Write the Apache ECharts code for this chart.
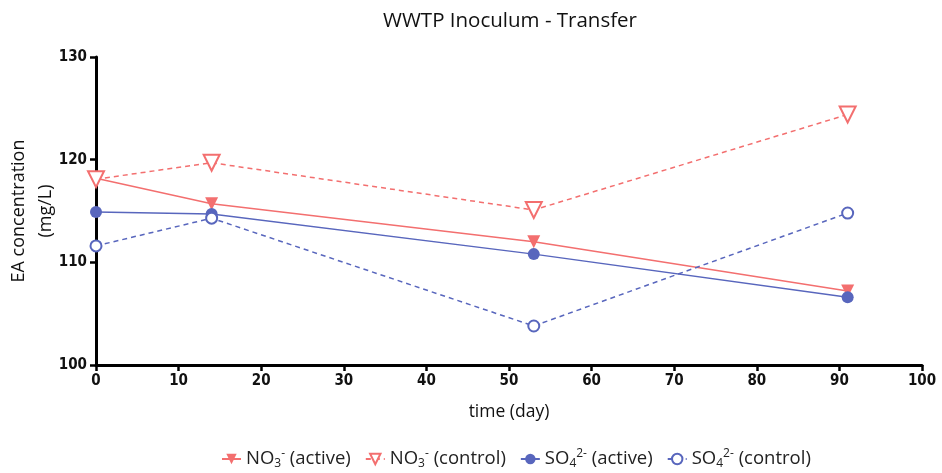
<!DOCTYPE html>
<html>
<head>
<meta charset="utf-8">
<script src="https://cdn.jsdelivr.net/npm/echarts@6/dist/echarts.min.js"></script>
<style>
  html, body { margin: 0; padding: 0; background: #fff; }
  #chart { width: 942px; height: 473px; }
</style>
</head>
<body>
<div id="chart"></div>
<script>
// Sampling days
const days = [0, 14, 53, 91];
// Electron acceptor concentrations (mg/L)
const no3Active = [118.2, 115.7, 112.0, 107.2];
const no3Control = [118.1, 119.7, 115.1, 124.4];
const so4Active = [114.9, 114.7, 110.8, 106.6];
const so4Control = [111.6, 114.3, 103.8, 114.8];
// Axis ticks
const xTicks = { min: 0, max: 100, interval: 10 };
const yTicks = { min: 100, max: 130, interval: 10 };

const RED = '#f36f6f';
const BLUE = '#5866bd';
const FONT = 'Open Sans';
const TICK_FONT = 'Liberation Sans Narrow, DejaVu Sans Condensed, sans-serif';

function pairs(vals) { return days.map((d, i) => [d, vals[i]]); }

const chart = echarts.init(document.getElementById('chart'));
const rich = {
  n: { fontFamily: FONT, fontSize: 18.5, color: '#222' },
  sub: { fontFamily: FONT, fontSize: 12, color: '#222', verticalAlign: 'bottom', padding: [10, 0, 0, 0] },
  sup: { fontFamily: FONT, fontSize: 12, color: '#222', verticalAlign: 'top', padding: [0, 0, 10, 0] }
};
const legendText = {
  'NO3- (active)': '{n|NO}{sub|3}{sup|-}{n| (active)}',
  'NO3- (control)': '{n|NO}{sub|3}{sup|-}{n| (control)}',
  'SO42- (active)': '{n|SO}{sub|4}{sup|2-}{n| (active)}',
  'SO42- (control)': '{n|SO}{sub|4}{sup|2-}{n| (control)}'
};

chart.setOption({
  backgroundColor: '#fff',
  animation: false,
  title: {
    text: 'WWTP Inoculum - Transfer',
    left: 505, top: 6, textAlign: 'center',
    textStyle: { fontFamily: FONT, fontSize: 20.5, fontWeight: 'normal', color: '#111' }
  },
  legend: {
    bottom: -2, left: 216,
    itemWidth: 19, itemHeight: 13, itemGap: 14,
    formatter: name => legendText[name],
    textStyle: { rich: rich },
    data: ['NO3- (active)', 'NO3- (control)', 'SO42- (active)', 'SO42- (control)']
  },
  grid: { left: 96, right: 20, top: 57, bottom: 108, containLabel: false, outerBoundsMode: 'none' },
  xAxis: {
    type: 'value', min: xTicks.min, max: xTicks.max, interval: xTicks.interval,
    name: 'time (day)', nameLocation: 'middle', nameGap: 38,
    nameTextStyle: { fontFamily: FONT, fontSize: 17.5, color: '#111' },
    axisLine: { lineStyle: { color: '#000', width: 3 } },
    axisTick: { length: 6, lineStyle: { color: '#000', width: 2.5 } },
    axisLabel: { fontFamily: TICK_FONT, fontWeight: 'bold', fontSize: 15, color: '#111', margin: 9 },
    splitLine: { show: false }
  },
  yAxis: {
    type: 'value', min: yTicks.min, max: yTicks.max, interval: yTicks.interval,
    name: 'EA concentration\n(mg/L)', nameLocation: 'middle', nameGap: 37, nameRotate: 90,
    nameMoveOverlap: false,
    nameTextStyle: { fontFamily: FONT, fontSize: 18, color: '#111', lineHeight: 27 },
    axisLine: { show: true, lineStyle: { color: '#000', width: 3 } },
    axisTick: { show: true, length: 6, lineStyle: { color: '#000', width: 2.5 } },
    axisLabel: { fontFamily: TICK_FONT, fontWeight: 'bold', fontSize: 15, color: '#111', margin: 9 },
    splitLine: { show: false }
  },
  series: [
    {
      name: 'NO3- (active)', type: 'line', data: pairs(no3Active),
      symbol: 'triangle', symbolRotate: 180, symbolSize: 13,
      lineStyle: { color: RED, width: 1.5 },
      itemStyle: { color: RED }
    },
    {
      name: 'NO3- (control)', type: 'line', data: pairs(no3Control),
      symbol: 'emptyTriangle', symbolRotate: 180, symbolSize: 16,
      lineStyle: { color: RED, width: 1.5, type: [5, 4] },
      itemStyle: { color: RED, borderColor: RED, borderWidth: 3 }
    },
    {
      name: 'SO42- (active)', type: 'line', data: pairs(so4Active),
      symbol: 'circle', symbolSize: 12,
      lineStyle: { color: BLUE, width: 1.5 },
      itemStyle: { color: BLUE }
    },
    {
      name: 'SO42- (control)', type: 'line', data: pairs(so4Control),
      symbol: 'emptyCircle', symbolSize: 11,
      lineStyle: { color: BLUE, width: 1.5, type: [5, 4] },
      itemStyle: { color: BLUE, borderColor: BLUE, borderWidth: 3.5 }
    }
  ]
});
</script>
</body>
</html>
